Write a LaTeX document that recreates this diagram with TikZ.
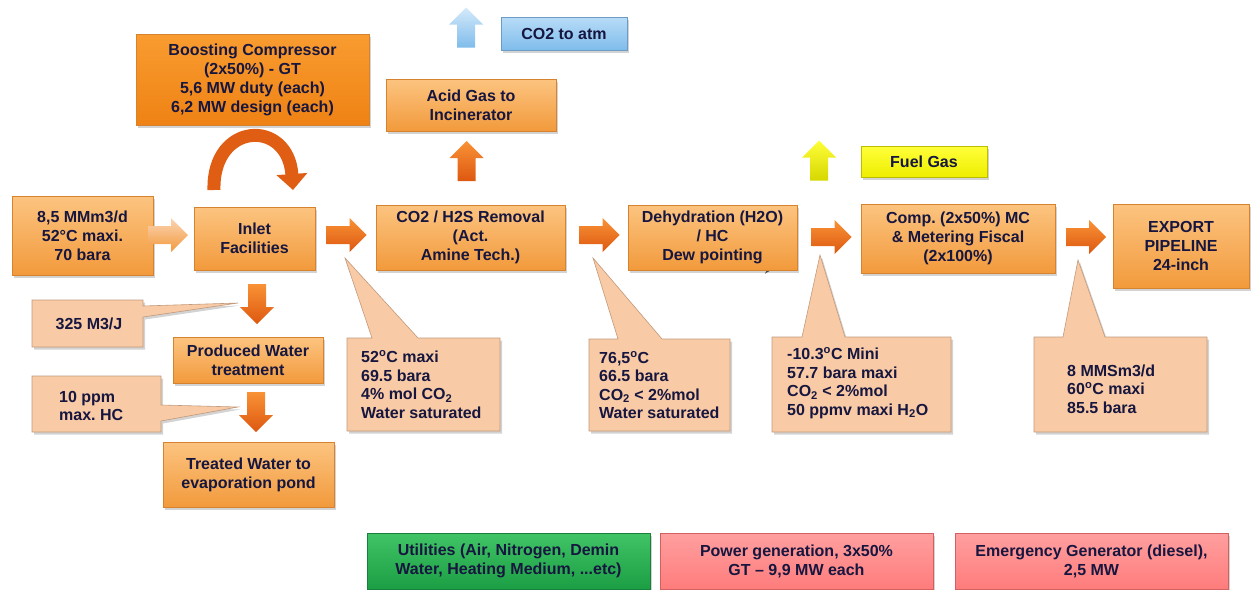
\documentclass[tikz,border=0pt]{standalone}
\usepackage{fontspec}
\setmainfont{Liberation Sans}[BoldFont={Liberation Sans Bold}]
\frenchspacing
\usetikzlibrary{shadows,arrows.meta,calc}
\definecolor{navy}{HTML}{16163F}
\definecolor{orT}{HTML}{FCC480}
\definecolor{orB}{HTML}{F29A3C}
\definecolor{orD}{HTML}{D7822E}
\definecolor{bsT}{HTML}{F99C30}
\definecolor{bsB}{HTML}{EF8214}
\definecolor{peT}{HTML}{FBD4B4}
\definecolor{peB}{HTML}{F6C199}
\definecolor{peD}{HTML}{C29A7C}
\definecolor{blT}{HTML}{B8DCF7}
\definecolor{blB}{HTML}{7FBCEB}
\definecolor{blD}{HTML}{6C9CC6}
\definecolor{yeT}{HTML}{FFFF3A}
\definecolor{yeB}{HTML}{EEEE00}
\definecolor{yeD}{HTML}{BDBD00}
\definecolor{grT}{HTML}{40C466}
\definecolor{grB}{HTML}{1C9E44}
\definecolor{grD}{HTML}{17803A}
\definecolor{pkT}{HTML}{FF9F9F}
\definecolor{pkB}{HTML}{FF7C7C}
\definecolor{pkD}{HTML}{D26060}
\definecolor{arT}{HTML}{F99236}
\definecolor{arB}{HTML}{DD5810}
\tikzset{
  base/.style={rectangle, inner sep=2pt, text=navy, align=center,
    font=\bfseries\fontsize{16}{19}\selectfont, line width=0.6pt,
    drop shadow={shadow xshift=2pt, shadow yshift=-2.5pt, opacity=0.35}},
  obox/.style={base, draw=orD, top color=orT, bottom color=orB},
  bbox/.style={base, draw=orD, top color=bsT, bottom color=bsB},
  bluebox/.style={base, draw=blD, top color=blT, bottom color=blB},
  yelbox/.style={base, draw=yeD, top color=yeT, bottom color=yeB},
  grnbox/.style={base, draw=grD, top color=grT, bottom color=grB},
  pnkbox/.style={base, draw=pkD, top color=pkT, bottom color=pkB},
  cshape/.style={draw=peD, line width=0.6pt, fill=peT!45!peB, line join=miter,
    drop shadow={shadow xshift=2pt, shadow yshift=-2.5pt, opacity=0.35}},
  ctext/.style={text=navy, align=left, inner sep=0pt,
    font=\bfseries\fontsize{16}{18.5}\selectfont},
  orarrow/.style={top color=arT, bottom color=arB},
  inarrow/.style={top color=peT, bottom color=orB},
  blarrow/.style={top color=blT!60, bottom color=blB},
  yearrow/.style={top color=yeT, bottom color=yeB!90!black},
  pics/barrow/.style={code={
    \path[#1] (-20,-9) -- (3,-9) -- (3,-17) -- (20,0) -- (3,17) -- (3,9) -- (-20,9) -- cycle;}},
}
\begin{document}
\begin{tikzpicture}[x=1pt,y=-1pt]
\useasboundingbox (0,0) rectangle (1255,589);

% main process boxes
\node[bbox, minimum width=233, minimum height=91] (boost) at (252.5,79.5)
  {Boosting Compressor\\(2x50\%) - GT\\5,6 MW duty (each)\\6,2 MW design (each)};
\node[obox, minimum width=141, minimum height=79] (src) at (82.5,235.5)
  {8,5 MMm3/d\\52\textdegree C maxi.\\70 bara};
\node[obox, minimum width=121, minimum height=63] (inlet) at (254.5,238.5)
  {Inlet\\Facilities};
\node[obox, minimum width=189, minimum height=65] (amine) at (470.5,237.5)
  {CO2 / H2S Removal\\(Act.\\Amine Tech.)};
\node[obox, minimum width=170, minimum height=52] (acid) at (471,105)
  {Acid Gas to\\Incinerator};
\node[bluebox, minimum width=126, minimum height=33] (atm) at (564,33.5)
  {CO2 to atm};
% small dark arrow partly hidden under the dehydration box
\coordinate (ba1) at (745,268);
\coordinate (ba2) at (775,268);
\draw[line width=1pt, black!85, -{Stealth[length=10pt,width=11pt]}] (ba1) -- (ba2);
\node[obox, minimum width=169, minimum height=65] (dehy) at (712.5,237.5)
  {Dehydration (H2O)\\/ HC\\Dew pointing};
\node[yelbox, minimum width=126, minimum height=31] (fuel) at (924,161.5)
  {Fuel Gas};
\node[obox, minimum width=194, minimum height=69] (comp) at (958,238.5)
  {Comp. (2x50\%) MC\\\& Metering Fiscal\\(2x100\%)};
\node[obox, minimum width=136, minimum height=84] (exp) at (1181,246)
  {EXPORT\\PIPELINE\\24-inch};

% water train
\node[obox, minimum width=150, minimum height=46] (pw) at (248,360)
  {Produced Water\\treatment};
\node[obox, minimum width=171, minimum height=65] (tw) at (248.5,474.5)
  {Treated Water to\\evaporation pond};

% callouts: outline with pointer, then the text node
\coordinate (t1) at (345,258);
\coordinate (t2) at (593,258);
\coordinate (t3) at (820,255);
\coordinate (t4) at (1078,260);
\coordinate (t5) at (238,303);
\coordinate (t6) at (238,407);
\path[cshape] (347,338) -- (372,338) -- (t1) -- (418,338) -- (500,338) -- (500,431) -- (347,431) -- cycle;
\node[ctext, anchor=west] (c1) at (361,384.5)
  {52\textsuperscript{o}C maxi\\69.5 bara\\4\% mol CO\textsubscript{2}\\Water saturated};
\path[cshape] (589,339) -- (618,339) -- (t2) -- (662,339) -- (730,339) -- (730,431) -- (589,431) -- cycle;
\node[ctext, anchor=west] (c2) at (599,385)
  {76,5\textsuperscript{o}C\\66.5 bara\\CO\textsubscript{2} < 2\%mol\\Water saturated};
\path[cshape] (772,337) -- (802,337) -- (t3) -- (845,337) -- (951,337) -- (951,432) -- (772,432) -- cycle;
\node[ctext, anchor=west] (c3) at (787,383)
  {-10.3\textsuperscript{o}C Mini\\57.7 bara maxi\\CO\textsubscript{2} < 2\%mol\\50 ppmv maxi H\textsubscript{2}O};
\path[cshape] (1034,337) -- (1063,337) -- (t4) -- (1105,337) -- (1207,337) -- (1207,432) -- (1034,432) -- cycle;
\node[ctext, anchor=west] (c4) at (1067,389)
  {8 MMSm3/d\\60\textsuperscript{o}C maxi\\85.5 bara};
\path[cshape] (32,300) -- (143,300) -- (143,306) -- (t5) -- (143,317) -- (143,347) -- (32,347) -- cycle;
\node[ctext, align=center] (c5) at (89,323.5) {325 M3/J};
\path[cshape] (32,376) -- (161,376) -- (161,405) -- (t6) -- (161,421) -- (161,432) -- (32,432) -- cycle;
\node[ctext, anchor=west] (c6) at (59,406) {10 ppm\\max. HC};

% utility boxes
\node[grnbox, minimum width=283, minimum height=56] (util) at (508.5,561)
  {Utilities (Air, Nitrogen, Demin\\Water, Heating Medium, ...etc)};
\node[pnkbox, minimum width=273, minimum height=56] (power) at (796.5,561)
  {Power generation, 3x50\%\\GT -- 9,9 MW each};
\node[pnkbox, minimum width=273, minimum height=56] (emerg) at (1091.5,561)
  {Emergency Generator (diesel),\\2,5 MW};

% block arrows
\pic at (168,235) {barrow={inarrow}};
\pic at (346.5,235) {barrow={orarrow}};
\pic at (599.5,235) {barrow={orarrow}};
\pic at (831.5,237) {barrow={orarrow}};
\pic at (1086,237) {barrow={orarrow}};
\pic[rotate=90] at (466.5,161) {barrow={orarrow}};
\pic[rotate=90] at (466,27.5) {barrow={blarrow}};
\pic[rotate=90] at (819,160.5) {barrow={yearrow}};
\pic[rotate=-90] at (257,304) {barrow={orarrow}};
\pic[rotate=-90] at (256,412) {barrow={orarrow}};

% recycle arc over the inlet facilities
\coordinate (r1) at (214,190);
\coordinate (r2) at (293,190);
\draw[line width=13pt, color=arB!90!arT,
  -{Triangle[width=30pt,length=16pt]}]
  (r1) .. controls (212,122) and (288,118) .. (r2);
\end{tikzpicture}
\end{document}
